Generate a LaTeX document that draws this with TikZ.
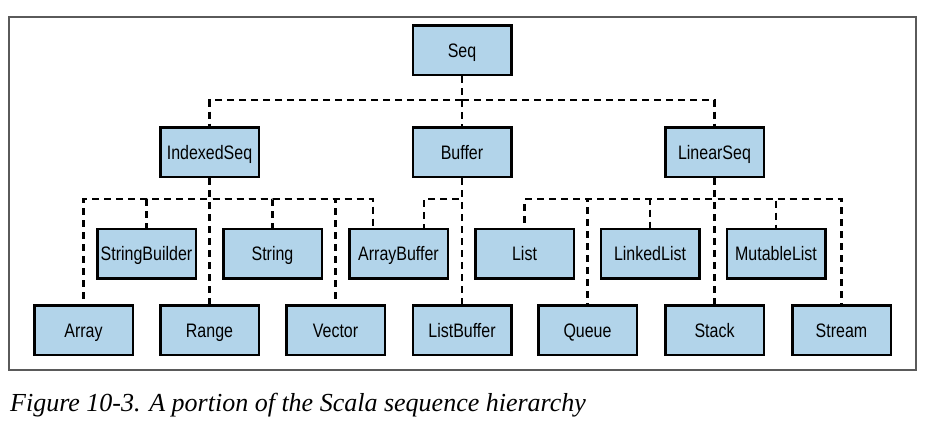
\documentclass[tikz,border=0pt]{standalone}
\usepackage{fontspec}
\setmainfont{Liberation Serif}
\setsansfont[FakeStretch=0.82]{Liberation Sans}
\definecolor{boxblue}{RGB}{178,212,234}
\definecolor{framegray}{RGB}{90,90,90}
\tikzset{
  cls/.style={draw,line width=2.5pt,fill=boxblue,minimum width=98.5pt,minimum height=49.5pt,inner sep=0pt,text height=14pt,text depth=0pt,font=\sffamily\fontsize{19.5}{19.5}\selectfont},
  dep/.style={line width=2.3pt,dash pattern=on 7pt off 5pt},
}
\begin{document}
\begin{tikzpicture}[x=1pt,y=-1pt]
\useasboundingbox (0,0) rectangle (929,426);
\draw[framegray,line width=1.5pt] (9,17) rectangle (916,370);
% classes, placed by pixel centre
\foreach \n/\x/\y in {Seq/462/50,IndexedSeq/209.5/152,Buffer/462/152,LinearSeq/714.5/152,
  StringBuilder/146.5/253.5,String/272.5/253.5,ArrayBuffer/398.5/253.5,List/524.5/253.5,LinkedList/650/253.5,MutableList/776/253.5,
  Array/83.5/330,Range/209.5/330,Vector/335.5/330,ListBuffer/462/330,Queue/587.5/330,Stack/714.5/330,Stream/841.5/330}
  \node[cls] (\n) at (\x,\y) {\n};
% Seq to second row
\foreach \c in {IndexedSeq,Buffer,LinearSeq}
  \draw[dep] (Seq.south) -- ++(0,24) -| (\c.north);
% IndexedSeq subtree
\foreach \c in {Array,StringBuilder,Range,String,Vector}
  \draw[dep] (IndexedSeq.south) -- ++(0,21) -| (\c.north);
\draw[dep] (IndexedSeq.south) -- ++(0,21) -| ([xshift=-25.5pt]ArrayBuffer.north);
% Buffer subtree
\draw[dep] (Buffer.south) -- ++(0,21) -| ([xshift=25.5pt]ArrayBuffer.north);
\draw[dep] (Buffer.south) -- (ListBuffer.north);
% LinearSeq subtree
\foreach \c in {List,Queue,LinkedList,Stack,MutableList,Stream}
  \draw[dep] (LinearSeq.south) -- ++(0,21) -| (\c.north);
\node[anchor=base west,font=\itshape\fontsize{26}{26}\selectfont,inner sep=0pt] (caption) at (10,411) {Figure 10-3. A portion of the Scala sequence hierarchy};
\end{tikzpicture}
\end{document}
